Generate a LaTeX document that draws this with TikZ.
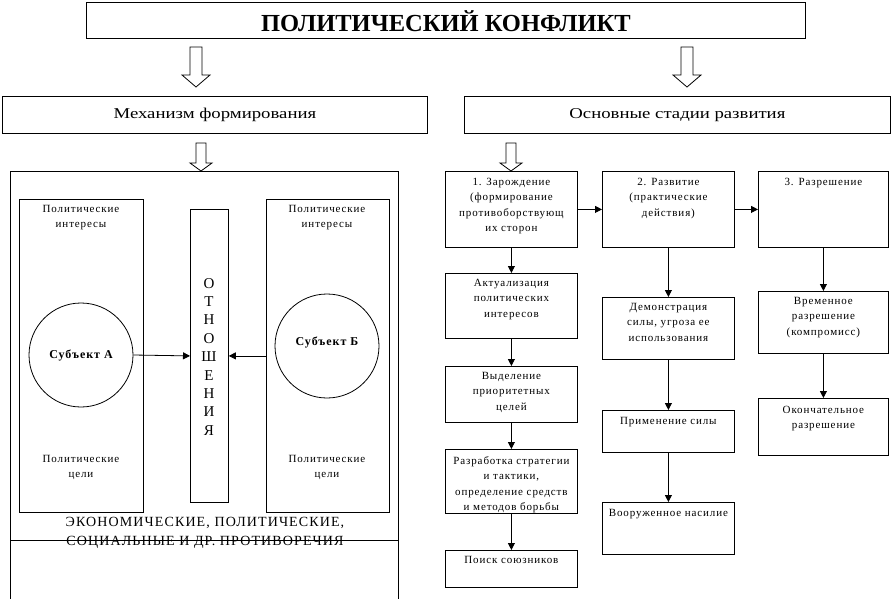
\documentclass[tikz,border=0pt]{standalone}
\usepackage{fontspec}
\setmainfont{Liberation Serif}
\newfontfamily\trk[LetterSpace=8]{Liberation Serif}
\usetikzlibrary{arrows.meta}
\newcommand\harr[6]{%
\draw[line width=0.8pt, fill=white] ({#1-#5},#2) -- ({#1-#5},#3) -- ({#1-#6},#3) -- (#1,#4) -- ({#1+#6},#3) -- ({#1+#5},#3) -- ({#1+#5},#2) -- cycle;}
\begin{document}
\begin{tikzpicture}[x=1pt,y=-1pt,
  bx/.style={draw, line width=0.8pt, anchor=north west, inner sep=0pt},
  tx/.style={anchor=north, inner sep=0pt, align=center, font=\trk\fontsize{11}{15.5}\selectfont},
  hd/.style={font=\fontsize{15}{18}\selectfont},
  sb/.style={font=\trk\bfseries\fontsize{12}{14}\selectfont},
  arr/.style={line width=0.8pt, -{Triangle[length=7pt,width=7pt]}}]
\useasboundingbox (0,0) rectangle (892,598);
% headers
\node[bx, minimum width=719pt, minimum height=36pt] (title) at (86,2) {};
\node[font=\bfseries\fontsize{24.5}{28}\selectfont] (titlet) at ([yshift=-1pt]title.center) {ПОЛИТИЧЕСКИЙ КОНФЛИКТ};
\node[bx, minimum width=425pt, minimum height=37pt] (mech) at (2,96) {};
\node[hd] (mecht) at (mech.center) {\scalebox{1.25}[1]{Механизм формирования}};
\node[bx, minimum width=426pt, minimum height=37pt] (stag) at (464,96) {};
\node[hd] (stagt) at (stag.center) {\scalebox{1.25}[1]{Основные стадии развития}};
\harr{196}{47}{75}{87}{6}{14}
\harr{687}{47}{75}{87}{6}{14}
\harr{201}{143}{163}{171}{5}{11}
\harr{511}{143}{163}{171}{5}{11}
% left block
\node[bx, minimum width=388pt, minimum height=432pt] (big) at (10,171) {};
\draw[line width=0.8pt] (10,540) -- (398,540);
\node[font=\trk\fontsize{14}{19}\selectfont, align=center] (contr) at (205,533) {ЭКОНОМИЧЕСКИЕ, ПОЛИТИЧЕСКИЕ,\\СОЦИАЛЬНЫЕ И ДР. ПРОТИВОРЕЧИЯ};
\node[bx, minimum width=124pt, minimum height=313pt] (inA) at (19,199) {};
\node[bx, minimum width=123pt, minimum height=313pt] (inB) at (266,199) {};
\node[bx, minimum width=38pt, minimum height=293pt] (rel) at (190,209) {};
\node[font=\fontsize{15}{18.4}\selectfont, align=center, anchor=north, inner sep=0pt] (relt) at (209,278) {О\\Т\\Н\\О\\Ш\\Е\\Н\\И\\Я};
\node[tx] (iA) at (81,205) {Политические\\интересы};
\node[tx] (iB) at (327,205) {Политические\\интересы};
\node[tx] (gA) at (81,455) {Политические\\цели};
\node[tx] (gB) at (327,455) {Политические\\цели};
\node[draw, circle, line width=0.8pt, minimum size=104pt, inner sep=0pt] (cA) at (81,355) {};
\node[sb] (cAt) at (81,355) {Субъект А};
\node[draw, circle, line width=0.8pt, minimum size=104pt, inner sep=0pt] (cB) at (327,346) {};
\node[sb] (cBt) at (327,342) {Субъект Б};
\draw[arr] (cA.east) -- (rel.west);
\draw[arr] (inB.west) -- (rel.east);
% right block column 1
\node[bx, minimum width=132pt, minimum height=76pt] (s1) at (445,171) {};
\node[tx] (s1t) at ([yshift=-7pt]s1.north) {1. Зарождение\\(формирование\\противоборствующ\\их сторон};
\node[bx, minimum width=132pt, minimum height=76pt] (s2) at (602,171) {};
\node[tx] (s2t) at ([yshift=-7pt]s2.north) {2. Развитие\\(практические\\действия)};
\node[bx, minimum width=130pt, minimum height=76pt] (s3) at (758,171) {};
\node[tx] (s3t) at ([yshift=-7pt]s3.north) {3. Разрешение};
\draw[arr] (s1.east) -- (s2.west);
\draw[arr] (s2.east) -- (s3.west);
\node[bx, minimum width=132pt, minimum height=65pt] (a1) at (445,273) {};
\node[tx] (a1t) at ([yshift=-6pt]a1.north) {Актуализация\\политических\\интересов};
\node[bx, minimum width=132pt, minimum height=56pt] (a2) at (445,366) {};
\node[tx] (a2t) at ([yshift=-6pt]a2.north) {Выделение\\приоритетных\\целей};
\node[bx, minimum width=132pt, minimum height=64pt] (a3) at (445,449) {};
\node[tx] (a3t) at ([yshift=-7pt]a3.north) {Разработка стратегии\\и тактики,\\определение средств\\и методов борьбы};
\node[bx, minimum width=132pt, minimum height=37pt] (a4) at (445,550) {};
\node[tx] (a4t) at ([yshift=-6pt]a4.north) {Поиск союзников};
\draw[arr] (s1.south) -- (a1.north);
\draw[arr] (a1.south) -- (a2.north);
\draw[arr] (a2.south) -- (a3.north);
\draw[arr] (a3.south) -- (a4.north);
% column 2
\node[bx, minimum width=132pt, minimum height=62pt] (b1) at (602,297) {};
\node[tx] (b1t) at ([yshift=-6pt]b1.north) {Демонстрация\\силы, угроза ее\\использования};
\node[bx, minimum width=132pt, minimum height=42pt] (b2) at (602,410) {};
\node[tx] (b2t) at ([yshift=-7pt]b2.north) {Применение силы};
\node[bx, minimum width=132pt, minimum height=52pt] (b3) at (602,502) {};
\node[tx] (b3t) at ([yshift=-7pt]b3.north) {Вооруженное насилие};
\draw[arr] (s2.south) -- (b1.north);
\draw[arr] (b1.south) -- (b2.north);
\draw[arr] (b2.south) -- (b3.north);
% column 3
\node[bx, minimum width=130pt, minimum height=62pt] (c1) at (758,291) {};
\node[tx] (c1t) at ([yshift=-6pt]c1.north) {Временное\\разрешение\\(компромисс)};
\node[bx, minimum width=130pt, minimum height=57pt] (c2) at (758,398) {};
\node[tx] (c2t) at ([yshift=-8pt]c2.north) {Окончательное\\разрешение};
\draw[arr] (s3.south) -- (c1.north);
\draw[arr] (c1.south) -- (c2.north);
\end{tikzpicture}
\end{document}
